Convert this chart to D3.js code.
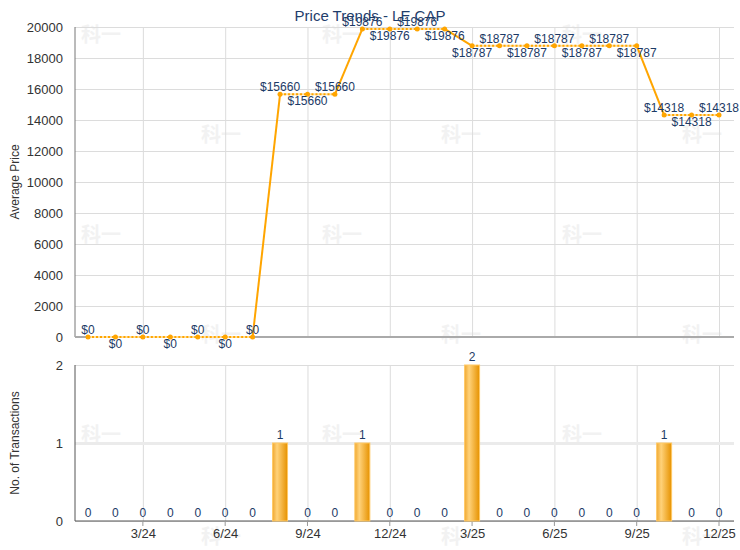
<!DOCTYPE html>
<html>
  <head>
    <meta charset="utf-8">
    <script src="https://d3js.org/d3.v7.min.js"></script>
    <title>Price Trends - LE CAP</title>
    <style>
      body {
        margin: 0px;
        background: #fff;
      }
      text {
        font-family: "Liberation Sans", Arial, sans-serif;
      }
      .domain {
        display: none;
      }
      .tick line {
        stroke: #dcdcdc;
      }
      .tick text {
        fill: #333;
        font-size: 13px;
      }
      .axis-label {
        fill: #333;
        font-size: 12px;
      }
      .value-label {
        fill: #1c3a66;
        font-size: 12px;
      }
      .watermark {
        fill: #f2f2f2;
        font-size: 20px;
        font-weight: bold;
        font-family: "Noto Sans CJK SC", sans-serif;
      }
    </style>
  </head>
  <body>
    <svg width="740" height="550"></svg>
    <script>

      const months = [
        '2024-01', '2024-02', '2024-03', '2024-04', '2024-05', '2024-06',
        '2024-07', '2024-08', '2024-09', '2024-10', '2024-11', '2024-12',
        '2025-01', '2025-02', '2025-03', '2025-04', '2025-05', '2025-06',
        '2025-07', '2025-08', '2025-09', '2025-10', '2025-11', '2025-12'
      ];
      const avgPrice = [
        0, 0, 0, 0, 0, 0,
        0, 15660, 15660, 15660, 19876, 19876,
        19876, 19876, 18787, 18787, 18787, 18787,
        18787, 18787, 18787, 14318, 14318, 14318
      ];
      const transactions = [
        0, 0, 0, 0, 0, 0,
        0, 1, 0, 0, 1, 0,
        0, 0, 2, 0, 0, 0,
        0, 0, 0, 1, 0, 0
      ];
      // which price labels sit above the point (1) or below it (0)
      const labelAbove = [
        1, 0, 1, 0, 1, 0,
        1, 1, 0, 1, 1, 0,
        1, 0, 0, 1, 0, 1,
        0, 1, 0, 1, 0, 1
      ];
      const tickMonths = ['2024-03', '2024-06', '2024-09', '2024-12',
        '2025-03', '2025-06', '2025-09', '2025-12'];
      const priceTicks = [0, 2000, 4000, 6000, 8000, 10000, 12000, 14000, 16000, 18000, 20000];
      const countTicks = [0, 1, 2];

      const title = 'Price Trends - LE CAP';
      const plotLeft = 75;
      const plotRight = 734;

      const svg = d3.select('svg');

      // faint watermark
      const wmRows = [35, 135, 235, 335, 435, 537];
      wmRows.forEach((y, r) => {
        const xs = r % 2 === 0 ? [101, 342, 582] : [221, 461, 702];
        xs.forEach(x => {
          svg.append('text')
            .attr('class', 'watermark')
            .attr('x', x)
            .attr('y', y + 7)
            .attr('text-anchor', 'middle')
            .text('科一');
        });
      });

      const xScale = d3.scalePoint()
        .domain(months)
        .range([88, 719]);

      const tickFormat = m => {
        const [y, mo] = m.split('-');
        return `${+mo}/${y.slice(2)}`;
      };

      // ---- price panel ----
      const yPrice = d3.scaleLinear()
        .domain([0, 20000])
        .range([337, 27]);

      const topG = svg.append('g');

      topG.append('g')
        .attr('transform', `translate(0,${yPrice(0)})`)
        .call(d3.axisBottom(xScale)
          .tickValues(tickMonths)
          .tickSize(-(yPrice(0) - yPrice(20000)))
          .tickFormat(''));

      topG.append('g')
        .attr('transform', `translate(${plotLeft},0)`)
        .call(d3.axisLeft(yPrice)
          .tickValues(priceTicks)
          .tickFormat(d3.format('d'))
          .tickSize(-(plotRight - plotLeft))
          .tickPadding(12));

      topG.append('line')
        .attr('x1', plotLeft).attr('x2', plotLeft)
        .attr('y1', yPrice(20000)).attr('y2', yPrice(0))
        .attr('stroke', '#777');
      topG.append('line')
        .attr('x1', plotLeft).attr('x2', plotRight)
        .attr('y1', yPrice(0)).attr('y2', yPrice(0))
        .attr('stroke', '#aaa')
        .attr('stroke-width', 2);

      topG.append('text')
        .attr('class', 'axis-label')
        .attr('transform', `translate(19,${(yPrice(0) + yPrice(20000)) / 2}) rotate(-90)`)
        .attr('text-anchor', 'middle')
        .text('Average Price');

      const pts = months.map((m, i) => ({ m, v: avgPrice[i], i }));
      const segs = d3.pairs(pts);

      // flat segments: light line with orange dots
      const flat = segs.filter(([a, b]) => a.v === b.v);
      topG.selectAll('.flat-bg').data(flat)
        .enter().append('line')
          .attr('x1', d => xScale(d[0].m)).attr('y1', d => yPrice(d[0].v))
          .attr('x2', d => xScale(d[1].m)).attr('y2', d => yPrice(d[1].v))
          .attr('stroke', '#ffe0a0')
          .attr('stroke-width', 2);
      topG.selectAll('.flat').data(flat)
        .enter().append('line')
          .attr('x1', d => xScale(d[0].m)).attr('y1', d => yPrice(d[0].v))
          .attr('x2', d => xScale(d[1].m)).attr('y2', d => yPrice(d[1].v))
          .attr('stroke', '#ffa500')
          .attr('stroke-width', 2)
          .attr('stroke-dasharray', '2,2');

      topG.selectAll('.step').data(segs.filter(([a, b]) => a.v !== b.v))
        .enter().append('line')
          .attr('x1', d => xScale(d[0].m)).attr('y1', d => yPrice(d[0].v))
          .attr('x2', d => xScale(d[1].m)).attr('y2', d => yPrice(d[1].v))
          .attr('stroke', '#ffa500')
          .attr('stroke-width', 2);

      topG.selectAll('circle').data(pts)
        .enter().append('circle')
          .attr('cx', d => xScale(d.m))
          .attr('cy', d => yPrice(d.v))
          .attr('r', 2.5)
          .attr('fill', '#ffa500');

      topG.selectAll('.value-label').data(pts)
        .enter().append('text')
          .attr('class', 'value-label')
          .attr('x', d => xScale(d.m))
          .attr('y', d => yPrice(d.v) + (labelAbove[d.i] ? -3 : 11))
          .attr('text-anchor', 'middle')
          .text(d => '$' + d.v);

      svg.append('text')
        .attr('x', 370)
        .attr('y', 21)
        .attr('text-anchor', 'middle')
        .attr('fill', '#1f3d6b')
        .style('font-size', '15px')
        .text(title);

      // ---- transactions panel ----
      const yCount = d3.scaleLinear()
        .domain([0, 2])
        .range([521, 365]);

      const botG = svg.append('g');

      botG.append('g')
        .attr('transform', `translate(0,${yCount(0)})`)
        .call(d3.axisBottom(xScale)
          .tickValues(tickMonths)
          .tickSize(-(yCount(0) - yCount(2)))
          .tickPadding(8)
          .tickFormat(tickFormat));

      // small tick marks below axis
      botG.selectAll('.tick-mark').data(tickMonths)
        .enter().append('line')
          .attr('x1', d => xScale(d)).attr('x2', d => xScale(d))
          .attr('y1', yCount(0)).attr('y2', yCount(0) + 5)
          .attr('stroke', '#999');

      const yAxisG = botG.append('g')
        .attr('transform', `translate(${plotLeft},0)`)
        .call(d3.axisLeft(yCount)
          .tickValues(countTicks)
          .tickFormat(d3.format('d'))
          .tickSize(-(plotRight - plotLeft))
          .tickPadding(12));
      yAxisG.selectAll('.tick line')
        .filter(d => d === 1)
        .style('stroke', '#ebebeb')
        .style('stroke-width', 3);

      botG.append('line')
        .attr('x1', plotLeft).attr('x2', plotLeft)
        .attr('y1', yCount(2)).attr('y2', yCount(0))
        .attr('stroke', '#555');
      botG.append('line')
        .attr('x1', plotLeft).attr('x2', plotRight)
        .attr('y1', yCount(0)).attr('y2', yCount(0))
        .attr('stroke', '#555');

      botG.append('text')
        .attr('class', 'axis-label')
        .attr('transform', `translate(19,${(yCount(0) + yCount(2)) / 2}) rotate(-90)`)
        .attr('text-anchor', 'middle')
        .text('No. of Transactions');

      const defs = svg.append('defs');
      const grad = defs.append('linearGradient')
        .attr('id', 'barGrad')
        .attr('x1', '0%').attr('x2', '100%')
        .attr('y1', '0%').attr('y2', '0%');
      grad.append('stop').attr('offset', '0%').attr('stop-color', '#f0a830');
      grad.append('stop').attr('offset', '30%').attr('stop-color', '#ffd27a');
      grad.append('stop').attr('offset', '100%').attr('stop-color', '#e69200');

      const barW = 15;
      const bars = months.map((m, i) => ({ m, v: transactions[i] }));

      botG.selectAll('rect').data(bars.filter(d => d.v > 0))
        .enter().append('rect')
          .attr('x', d => xScale(d.m) - barW / 2)
          .attr('y', d => yCount(d.v))
          .attr('width', barW)
          .attr('height', d => yCount(0) - yCount(d.v))
          .attr('fill', 'url(#barGrad)')
          .attr('stroke', '#ffc966')
          .attr('stroke-width', 1);

      botG.selectAll('.value-label').data(bars)
        .enter().append('text')
          .attr('class', 'value-label')
          .attr('x', d => xScale(d.m))
          .attr('y', d => yCount(d.v) - 4)
          .attr('text-anchor', 'middle')
          .text(d => d.v);
    </script>
  </body>
</html>
